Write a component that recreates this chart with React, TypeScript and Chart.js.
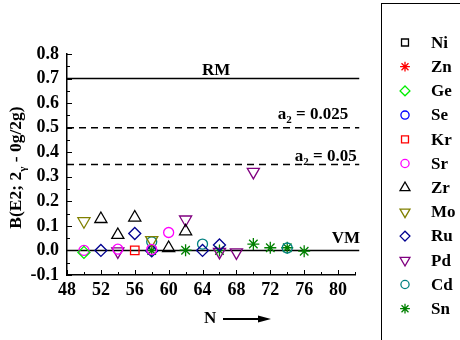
import React, { useEffect, useRef } from 'react';
import { Chart, registerables } from 'chart.js';
import { drawPoint } from 'chart.js/helpers';

Chart.register(...registerables);

// ---- data (N, B(E2) ratio) ----
const NI_N: number[] = [];
const NI_B: number[] = [];
const ZN_N: number[] = [];
const ZN_B: number[] = [];
const GE_N = [50];
const GE_B = [-0.008];
const SE_N: number[] = [];
const SE_B: number[] = [];
const KR_N = [56];
const KR_B = [0.0];
const SR_N = [50, 54, 58, 60];
const SR_B = [0.0, 0.005, 0.004, 0.073];
const ZR_N = [52, 54, 56, 60, 62];
const ZR_B = [0.128, 0.063, 0.134, 0.01, 0.078];
const MO_N = [50, 58];
const MO_B = [0.119, 0.042];
const RU_N = [52, 56, 58, 64, 66];
const RU_B = [0.0, 0.069, -0.002, 0.0, 0.022];
const PD_N = [54, 62, 66, 68, 70];
const PD_B = [-0.004, 0.126, -0.006, -0.008, 0.32];
const CD_N = [58, 64, 74];
const CD_B = [0.035, 0.026, 0.01];
const SN_N = [58, 62, 66, 70, 72, 74, 76];
const SN_B = [0.0, 0.001, 0.0, 0.026, 0.011, 0.011, -0.003];

const ELEMENTS = ['Ni', 'Zn', 'Ge', 'Se', 'Kr', 'Sr', 'Zr', 'Mo', 'Ru', 'Pd', 'Cd', 'Sn'];
const SERIES_N = [NI_N, ZN_N, GE_N, SE_N, KR_N, SR_N, ZR_N, MO_N, RU_N, PD_N, CD_N, SN_N];
const SERIES_B = [NI_B, ZN_B, GE_B, SE_B, KR_B, SR_B, ZR_B, MO_B, RU_B, PD_B, CD_B, SN_B];

const X_TICKS = [48, 52, 56, 60, 64, 68, 72, 76, 80];
const Y_TICKS = [-0.1, 0.0, 0.1, 0.2, 0.3, 0.4, 0.5, 0.6, 0.7, 0.8];

const RM_LEVEL = 0.7;
const A025_LEVEL = 0.5;
const A05_LEVEL = 0.35;
const VM_LEVEL = 0.0;

// ---- styles ----
const COLORS = ['#000000', '#ff0000', '#00ee00', '#0000ff', '#ff0000', '#ff00ff', '#000000', '#808000', '#000090', '#800080', '#008080', '#008000'];
const STYLES = ['rect', 'star', 'rectRot', 'circle', 'rect', 'circle', 'triangle', 'triangle', 'rectRot', 'triangle', 'circle', 'star'];
const ROTS = [0, 0, 0, 0, 0, 0, 0, 180, 0, 180, 0, 0];
const RADII = [6, 6, 6, 5, 6, 5, 7, 7, 6, 7, 5, 6];

const FONT = '"Liberation Serif", "Times New Roman", serif';

function drawParts(ctx: CanvasRenderingContext2D, parts: { t: string; sub?: boolean }[], x: number, y: number, size: number, align: 'left' | 'right' | 'center') {
  const big = `bold ${size}px ${FONT}`;
  const small = `bold ${Math.round(size * 0.62)}px ${FONT}`;
  let total = 0;
  for (const p of parts) {
    ctx.font = p.sub ? small : big;
    total += ctx.measureText(p.t).width;
  }
  let cx = align === 'left' ? x : align === 'right' ? x - total : x - total / 2;
  ctx.textAlign = 'left';
  ctx.textBaseline = 'alphabetic';
  for (const p of parts) {
    ctx.font = p.sub ? small : big;
    ctx.fillText(p.t, cx, p.sub ? y + size * 0.28 : y);
    cx += ctx.measureText(p.t).width;
  }
}

const decor = {
  id: 'decor',
  afterDraw(chart: any) {
    const ctx: CanvasRenderingContext2D = chart.ctx;
    const xs = chart.scales.x;
    const ys = chart.scales.y;
    const ca = chart.chartArea;
    ctx.save();
    ctx.strokeStyle = '#000';
    ctx.fillStyle = '#000';
    ctx.lineWidth = 1;
    // inward ticks
    for (let v = 48; v <= 82; v += 2) {
      const px = Math.round(xs.getPixelForValue(v)) + 0.5;
      const len = v % 4 === 0 ? 5 : 3;
      ctx.beginPath();
      ctx.moveTo(px, ca.bottom);
      ctx.lineTo(px, ca.bottom - len);
      ctx.stroke();
    }
    for (let k = -2; k <= 16; k++) {
      const py = Math.round(ys.getPixelForValue(k * 0.05)) + 0.5;
      const len = k % 2 === 0 ? 5 : 3;
      ctx.beginPath();
      ctx.moveTo(ca.left, py);
      ctx.lineTo(ca.left + len, py);
      ctx.stroke();
    }
    // annotations
    const sz = 17;
    drawParts(ctx, [{ t: 'RM' }], xs.getPixelForValue(65.6), ys.getPixelForValue(RM_LEVEL) - 4, sz, 'center');
    drawParts(ctx, [{ t: 'a' }, { t: '2', sub: true }, { t: ' = 0.025' }], xs.getPixelForValue(81.2), ys.getPixelForValue(A025_LEVEL) - 9, sz, 'right');
    drawParts(ctx, [{ t: 'a' }, { t: '2', sub: true }, { t: ' = 0.05' }], xs.getPixelForValue(82.2), ys.getPixelForValue(A05_LEVEL) - 4, sz, 'right');
    drawParts(ctx, [{ t: 'VM' }], xs.getPixelForValue(82.6), ys.getPixelForValue(VM_LEVEL) - 7, sz, 'right');

    // y title
    ctx.save();
    ctx.translate(21, (ca.top + ca.bottom) / 2 + 3);
    ctx.rotate(-Math.PI / 2);
    drawParts(ctx, [{ t: 'B(E2; 2' }, { t: 'γ', sub: true }, { t: ' - 0g/2g)' }], 0, 0, 17.5, 'center');
    ctx.restore();

    // x title with arrow
    drawParts(ctx, [{ t: 'N' }], 204, 323, sz, 'left');
    ctx.lineWidth = 2;
    ctx.beginPath();
    ctx.moveTo(223, 319);
    ctx.lineTo(260, 319);
    ctx.stroke();
    ctx.beginPath();
    ctx.moveTo(258, 315.5);
    ctx.lineTo(271, 319);
    ctx.lineTo(258, 322.5);
    ctx.closePath();
    ctx.fill();

    // legend box
    ctx.lineWidth = 1;
    ctx.strokeRect(381.5, 3.5, 200, 400);
    ELEMENTS.forEach((name, i) => {
      const cy = 42.5 + i * 24.2;
      ctx.strokeStyle = COLORS[i];
      ctx.fillStyle = 'rgba(0,0,0,0)';
      ctx.lineWidth = 1.3;
      drawPoint(ctx, { pointStyle: STYLES[i] as any, radius: RADII[i] * 0.82, rotation: ROTS[i], borderWidth: 1.3 }, 405, cy);
      ctx.fillStyle = '#000';
      ctx.font = `bold 17px ${FONT}`;
      ctx.textAlign = 'left';
      ctx.textBaseline = 'middle';
      ctx.fillText(name, 431, cy + 1);
    });
    ctx.restore();
  },
};

export default function App() {
  const ref = useRef<HTMLCanvasElement | null>(null);
  useEffect(() => {
    if (!ref.current) return;
    const lineDs = (v: number, dash: number[]) => ({
      type: 'line' as const,
      data: [{ x: 48, y: v }, { x: 82.5, y: v }],
      borderColor: '#000',
      borderWidth: 1.5,
      borderDash: dash,
      pointRadius: 0,
      showLine: true,
      clip: false as any,
    });
    const pointSets = ELEMENTS.map((name, i) => ({
      type: 'scatter' as const,
      label: name,
      data: SERIES_N[i].map((n, j) => ({ x: n, y: SERIES_B[i][j] })),
      borderColor: COLORS[i],
      backgroundColor: 'transparent',
      pointStyle: STYLES[i] as any,
      pointRotation: ROTS[i],
      pointRadius: RADII[i],
      pointBorderWidth: 1.3,
      showLine: false,
    }));
    const chart = new Chart(ref.current, {
      type: 'scatter',
      data: {
        datasets: [
          ...pointSets,
          lineDs(RM_LEVEL, []),
          lineDs(A025_LEVEL, [7, 5]),
          lineDs(A05_LEVEL, [7, 5]),
          lineDs(VM_LEVEL, []),
        ] as any,
      },
      options: {
        animation: false,
        responsive: false,
        devicePixelRatio: 1,
        layout: { padding: { left: 0, top: 54, right: 105, bottom: 0 } },
        plugins: { legend: { display: false }, tooltip: { enabled: false } },
        scales: {
          x: {
            type: 'linear',
            min: 48,
            max: 82,
            grid: { display: false, drawTicks: false },
            border: { display: true, color: '#000', width: 1.5 },
            afterBuildTicks: (s: any) => { s.ticks = X_TICKS.map((v) => ({ value: v })); },
            afterFit: (s: any) => { s.height = 65; },
            ticks: { color: '#000', padding: 5, autoSkip: false, font: { family: FONT, size: 18, weight: 'bold' }, maxRotation: 0 },
          },
          y: {
            type: 'linear',
            min: -0.1,
            max: 0.8,
            grid: { display: false, drawTicks: false },
            border: { display: true, color: '#000', width: 1.5 },
            afterBuildTicks: (s: any) => { s.ticks = Y_TICKS.map((v) => ({ value: v })); },
            afterFit: (s: any) => { s.width = 67; },
            ticks: {
              color: '#000',
              padding: 8,
              autoSkip: false,
              font: { family: FONT, size: 18, weight: 'bold' },
              callback: (v: any) => Number(v).toFixed(1),
            },
          },
        },
      },
      plugins: [decor],
    });
    return () => chart.destroy();
  }, []);
  return (
    <div style={{ position: 'fixed', left: 0, top: 0, width: 460, height: 340, background: '#fff' }}>
      <canvas ref={ref} width={460} height={340} style={{ width: 460, height: 340, display: 'block' }} />
    </div>
  );
}
